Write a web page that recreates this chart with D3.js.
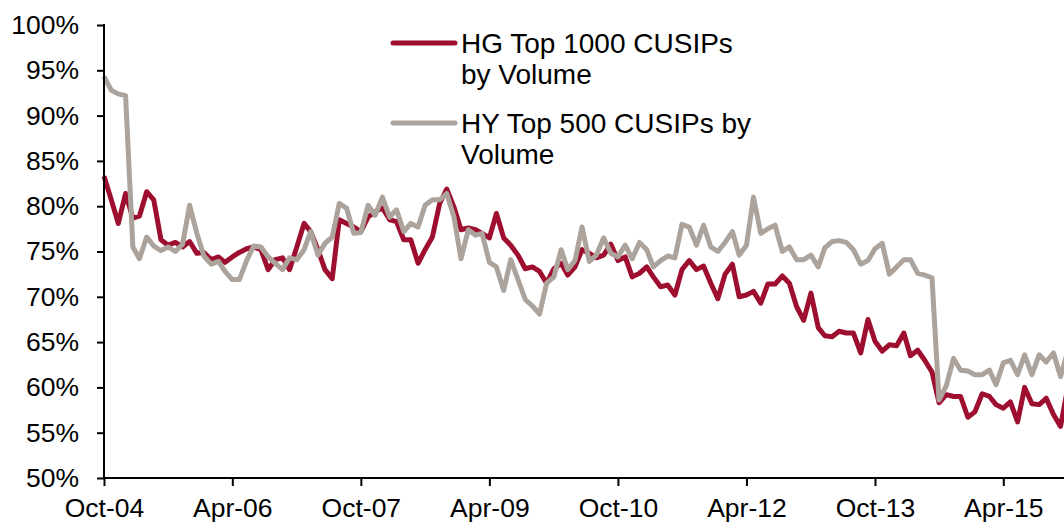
<html>
  <head>
    <script src="https://cdn.jsdelivr.net/npm/d3@7"></script>
    <style>
      body { margin: 0; background: #fff; }
      svg { display: block; font-family: "Liberation Sans", Arial, sans-serif; }
    </style>
  </head>

  <body>
    <div id="chart"></div>
  </body>

  <script>
    // monthly series, starting Oct-04
    const startMonth = "2004-10"
    const hgTop1000 = [
      83.3, 80.7, 78.1, 81.4, 78.7, 78.9, 81.6, 80.7, 76.3, 75.7,
      76.0, 75.5, 76.1, 74.8, 74.9, 74.1, 74.4, 73.8, 74.4, 74.9,
      75.3, 75.5, 75.2, 73.0, 74.1, 74.3, 73.0, 75.5, 78.1, 77.2,
      75.2, 73.0, 72.0, 78.5, 78.1, 77.7, 77.2, 78.8, 79.4, 79.8,
      78.5, 78.3, 76.3, 76.3, 73.7, 75.2, 76.6, 80.3, 81.9, 79.9,
      77.4, 77.6, 77.4, 77.0, 76.5, 79.2, 76.5, 75.7, 74.6, 73.1,
      73.3, 72.8, 71.5, 73.1, 73.7, 72.4, 73.3, 75.2, 74.8, 74.3,
      74.6, 75.8, 74.0, 74.4, 72.2, 72.6, 73.3, 72.2, 71.1, 71.3,
      70.2, 73.0, 74.0, 73.0, 73.4, 71.5, 69.8, 72.5, 73.6, 70.0,
      70.2, 70.6, 69.3, 71.4, 71.4, 72.3, 71.5, 68.9, 67.4, 70.4,
      66.6, 65.7, 65.6, 66.2, 66.0, 66.0, 63.8, 67.5, 65.1, 64.0,
      64.7, 64.6, 66.0, 63.5, 64.1, 63.0, 61.7, 58.3, 59.2, 59.0,
      59.0, 56.7, 57.3, 59.3, 59.0, 58.1, 57.7, 58.4, 56.2, 60.0,
      58.2, 58.1, 58.8, 57.0, 55.7, 60.0
    ]
    const hyTop500 = [
      94.3, 92.8, 92.4, 92.2, 75.5, 74.2, 76.6, 75.6, 75.1, 75.5,
      75.0, 75.8, 80.1, 77.0, 74.5, 73.6, 73.9, 72.8, 71.9, 71.9,
      74.0, 75.6, 75.5, 74.4, 73.7, 73.0, 74.3, 74.1, 75.2, 77.2,
      74.6, 75.9, 76.6, 80.3, 79.8, 77.0, 77.1, 80.1, 79.0, 81.0,
      78.8, 79.6, 77.2, 78.1, 77.7, 80.1, 80.7, 80.7, 81.4, 78.8,
      74.2, 77.4, 76.8, 77.0, 73.8, 73.3, 70.7, 74.1, 71.9, 69.7,
      69.0, 68.1, 71.5, 72.2, 75.2, 73.0, 74.0, 77.7, 73.9, 74.6,
      76.5, 74.8, 74.4, 75.7, 74.2, 76.0, 75.2, 73.3, 74.0, 74.5,
      74.3, 78.0, 77.7, 75.7, 77.9, 75.5, 75.0, 76.0, 77.2, 74.6,
      75.7, 81.0, 77.0, 77.5, 77.9, 75.0, 75.5, 74.1, 74.1, 74.6,
      73.3, 75.4, 76.1, 76.2, 76.0, 75.2, 73.6, 74.0, 75.3, 75.9,
      72.5, 73.3, 74.1, 74.1, 72.6, 72.4, 72.1, 58.6, 60.2, 63.2,
      61.9, 61.8, 61.4, 61.4, 61.9, 60.3, 62.7, 63.0, 61.4, 63.6,
      61.4, 63.6, 62.8, 63.8, 61.2, 64.0
    ]

    // axis labels
    const xTickLabels = ["Oct-04", "Apr-06", "Oct-07", "Apr-09", "Oct-10", "Apr-12", "Oct-13", "Apr-15"]
    const yTickValues = [0.50, 0.55, 0.60, 0.65, 0.70, 0.75, 0.80, 0.85, 0.90, 0.95, 1.00]

    // legend entries (label lines)
    const legendNames = [
      ["HG Top 1000 CUSIPs", "by Volume"],
      ["HY Top 500 CUSIPs by", "Volume"]
    ]
    const colors = ["#9e0f2f", "#aba39c"]

    function drawChart () {
      const W = 1064, H = 523
      const left = 104, top = 25, bottom = 478

      const parseMonth = d3.timeParse("%Y-%m")
      const parseTick = d3.timeParse("%b-%y")
      const start = parseMonth(startMonth)
      const dates = hgTop1000.map((d, i) => d3.timeMonth.offset(start, i))

      const svg = d3.select("#chart").append("svg")
        .attr("width", W)
        .attr("height", H)

      // x: Oct-04 .. Jan-16, runs a bit past the right edge
      const x = d3.scaleTime()
        .domain([start, d3.timeMonth.offset(start, 135)])
        .range([left, 1067.8])

      const y = d3.scaleLinear()
        .domain([0.5, 1])
        .range([bottom, top])

      // series lines, HY drawn over HG
      const line = d3.line()
        .x((d, i) => x(dates[i]))
        .y(d => y(d / 100))

      const series = [hgTop1000, hyTop500]
      svg.append("g")
        .selectAll("path")
        .data(series)
        .enter().append("path")
        .attr("d", d => line(d))
        .attr("fill", "none")
        .attr("stroke", (d, i) => colors[i])
        .attr("stroke-width", 5)
        .attr("stroke-linejoin", "round")

      // Y axis
      const yAxis = svg.append("g")
        .attr("transform", "translate(" + left + ",0)")
        .call(d3.axisLeft(y)
          .tickValues(yTickValues)
          .tickFormat(d3.format(".0%"))
          .tickSize(7)
          .tickPadding(18))
      yAxis.select(".domain").attr("d", "M0," + (top - 1) + "V" + bottom)

      // X axis
      const xAxis = svg.append("g")
        .attr("transform", "translate(0," + bottom + ")")
        .call(d3.axisBottom(x)
          .tickValues(xTickLabels.map(parseTick))
          .tickFormat(d3.timeFormat("%b-%y"))
          .tickSize(8)
          .tickPadding(12.5))
      xAxis.select(".domain").attr("d", "M" + (left - 1) + ",0H" + W)

      svg.selectAll(".domain, .tick line")
        .attr("stroke", "#000")
        .attr("stroke-width", 2)
      svg.selectAll(".tick text")
        .attr("fill", "#000")
        .style("font-family", "'Liberation Sans', Arial, sans-serif")
        .style("font-size", "26.5px")

      // legend
      const legend = svg.append("g")
        .selectAll("g")
        .data(legendNames)
        .enter().append("g")
        .attr("transform", (d, i) => "translate(393," + (43 + i * 80) + ")")

      legend.append("line")
        .attr("x1", 0)
        .attr("x2", 62)
        .attr("stroke", (d, i) => colors[i])
        .attr("stroke-width", 5)
        .attr("stroke-linecap", "round")

      legend.append("text")
        .attr("x", 68)
        .attr("y", 9.5)
        .style("font-size", "28px")
        .attr("fill", "#000")
        .selectAll("tspan")
        .data(d => d)
        .enter().append("tspan")
        .attr("x", 68)
        .attr("dy", (d, i) => i ? 31 : 0)
        .text(d => d)
    }

    drawChart()
  </script>
</html>
